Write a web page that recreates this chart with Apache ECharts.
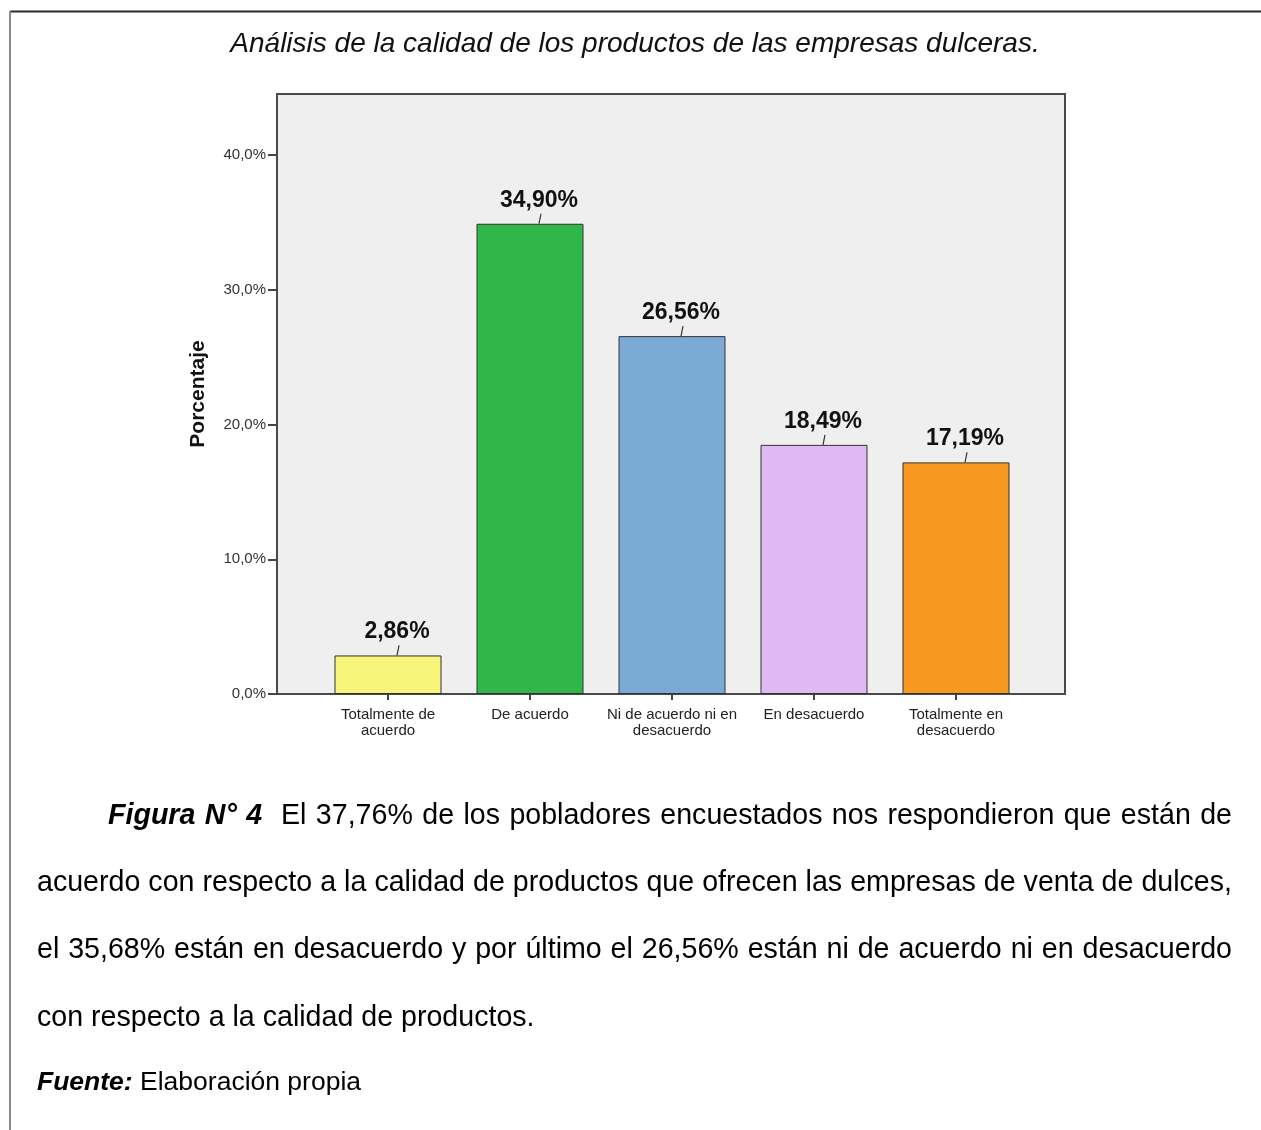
<!DOCTYPE html>
<html lang="es">
<head>
<meta charset="utf-8">
<title>Calidad de los productos</title>
<script src="https://cdn.jsdelivr.net/npm/echarts@6/dist/echarts.min.js"></script>
<style>
  html, body { margin: 0; padding: 0; background: #fff; }
  #page { position: relative; width: 1261px; height: 1130px; overflow: hidden; }
  #chart { position: absolute; left: 0; top: 0; width: 1261px; height: 1130px; }
  .line {
    position: absolute;
    font-family: "Liberation Sans", Arial, sans-serif;
    font-size: 28.6px;
    line-height: 34px;
    color: #000;
    white-space: nowrap;
  }
  .just { text-align: justify; text-align-last: justify; }
  .bi { font-weight: bold; font-style: italic; }
</style>
</head>
<body>
<div id="page">
  <div id="chart"></div>
  <div class="line just" style="left:108px; width:1124px; top:797px;"><span class="bi">Figura N° 4</span>&nbsp; El 37,76% de los pobladores encuestados nos respondieron que están de</div>
  <div class="line just" style="left:37px; width:1195px; top:864px;">acuerdo con respecto a la calidad de productos que ofrecen las empresas de venta de dulces,</div>
  <div class="line just" style="left:37px; width:1195px; top:931px;">el 35,68% están en desacuerdo y por último el 26,56% están ni de acuerdo ni en desacuerdo</div>
  <div class="line" style="left:37px; top:999px;">con respecto a la calidad de productos.</div>
  <div class="line" style="left:37px; top:1064px; font-size:26.5px;"><span class="bi">Fuente:</span> Elaboración propia</div>
</div>
<script>
// Respuestas sobre la calidad de los productos (porcentaje de encuestados)
const categories = [
  'Totalmente de\nacuerdo',
  'De acuerdo',
  'Ni de acuerdo ni en\ndesacuerdo',
  'En desacuerdo',
  'Totalmente en\ndesacuerdo'
];
const percentages = [2.86, 34.90, 26.56, 18.49, 17.19];
const barColors = ['#f8f57a', '#2fb74a', '#7caad6', '#dfb9f1', '#f8991f'];
const yTicks = [0, 10, 20, 30, 40];
const yMax = 44.53;

const fmtAxis = v => v.toFixed(1).replace('.', ',') + '%';
const fmtValue = v => v.toFixed(2).replace('.', ',') + '%';

const chart = echarts.init(document.getElementById('chart'), null, { renderer: 'canvas' });

const plotTop = 94, plotHeight = 600;

chart.setOption({
  animation: false,
  title: {
    text: 'Análisis de la calidad de los productos de las empresas dulceras.',
    left: 635,
    top: 30,
    padding: 0,
    textAlign: 'center',
    textStyle: {
      fontFamily: 'Liberation Sans',
      fontStyle: 'italic',
      fontWeight: 'normal',
      fontSize: 28,
      color: '#111'
    }
  },
  graphic: [
    { type: 'line', shape: { x1: 10, y1: 11.5, x2: 1261, y2: 11.5 }, style: { stroke: '#2a2a2a', lineWidth: 2 } },
    { type: 'line', shape: { x1: 10, y1: 11, x2: 10, y2: 1130 }, style: { stroke: '#8a8a8a', lineWidth: 2 } }
  ],
  grid: [
    // frame of the plot area
    { left: 277, top: plotTop, width: 788, height: plotHeight, show: true,
      backgroundColor: '#efefef', borderColor: '#4a4a4a', borderWidth: 2 },
    // band that holds the bars
    { left: 317, top: plotTop, width: 710, height: plotHeight }
  ],
  xAxis: [
    { gridIndex: 0, type: 'value', show: false, min: 0, max: 1 },
    {
      gridIndex: 1,
      type: 'category',
      data: categories,
      axisLine: { show: false },
      axisTick: { show: true, alignWithLabel: true, length: 6, lineStyle: { color: '#444', width: 2 } },
      axisLabel: {
        margin: 13,
        interval: 0,
        fontFamily: 'Liberation Sans',
        fontSize: 15,
        lineHeight: 16,
        color: '#222'
      }
    }
  ],
  yAxis: [
    {
      gridIndex: 0,
      type: 'value',
      min: 0,
      max: yMax,
      name: 'Porcentaje',
      nameLocation: 'middle',
      nameGap: 68,
      nameTextStyle: { fontFamily: 'Liberation Sans', fontWeight: 'bold', fontSize: 21, color: '#111' },
      splitLine: { show: false },
      axisLine: { show: false },
      axisTick: { show: true, length: 9, customValues: yTicks, lineStyle: { color: '#444', width: 2 } },
      axisLabel: {
        customValues: yTicks,
        margin: 11,
        padding: [4, 0, 0, 0],
        formatter: fmtAxis,
        fontFamily: 'Liberation Sans',
        fontSize: 15,
        color: '#333'
      }
    },
    { gridIndex: 1, type: 'value', min: 0, max: yMax, show: false }
  ],
  series: [
    {
      type: 'bar',
      xAxisIndex: 1,
      yAxisIndex: 1,
      barWidth: 107,
      data: percentages.map((v, i) => ({ value: v, itemStyle: { color: barColors[i] } })),
      itemStyle: { borderColor: '#333', borderWidth: 1 },
      label: {
        show: true,
        position: 'top',
        distance: 12,
        offset: [9, 0],
        formatter: p => fmtValue(p.value),
        fontFamily: 'Liberation Sans',
        fontWeight: 'bold',
        fontSize: 23,
        color: '#111'
      },
      z: 2
    },
    {
      // short leader lines joining each value label to its bar
      type: 'custom',
      xAxisIndex: 1,
      yAxisIndex: 1,
      data: percentages.map((v, i) => [i, v]),
      renderItem: (params, api) => {
        const p = api.coord([api.value(0), api.value(1)]);
        return {
          type: 'line',
          shape: { x1: p[0] + 9, y1: p[1], x2: p[0] + 11, y2: p[1] - 10 },
          style: { stroke: '#333', lineWidth: 1.2 }
        };
      },
      z: 3
    }
  ]
});
</script>
</body>
</html>
